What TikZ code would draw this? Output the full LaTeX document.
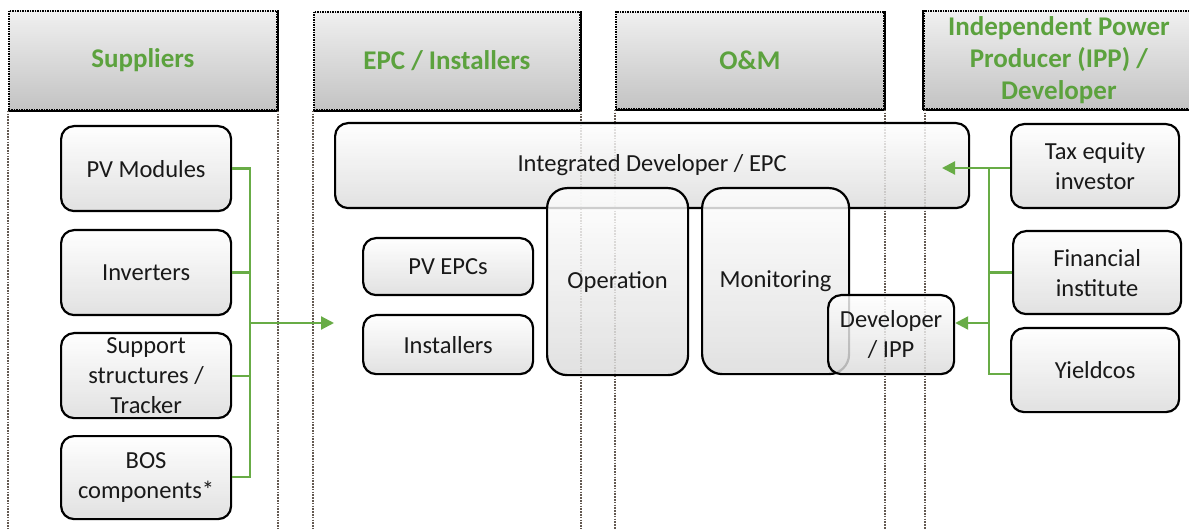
\documentclass[tikz,border=0pt]{standalone}
\usepackage{fontspec}
\setmainfont{Carlito}
\usetikzlibrary{arrows.meta}
\definecolor{grn}{RGB}{104,172,70}
\definecolor{hgrn}{RGB}{92,162,62}
\definecolor{dotc}{RGB}{100,90,82}
\tikzset{
 hdr/.style={anchor=north west, inner sep=0pt, top color=gray!12, bottom color=gray!47, draw=black, line width=1.8pt, dash pattern=on 1.5pt off 1pt, text=hgrn, font=\fontsize{27}{32}\selectfont\bfseries, align=center},
 hdredge/.style={draw=black, line width=2.4pt},
 box/.style={anchor=north west, inner sep=2pt, rounded corners=13pt, draw=black, line width=2.2pt, top color=white, bottom color=gray!28, fill opacity=0.82, text opacity=1, text=black!90, font=\fontsize{24.5}{30}\selectfont, align=center},
 bigbox/.style={box, rounded corners=20pt},
 vline/.style={draw=dotc, line width=2pt, dash pattern=on 1.6pt off 1.2pt},
 conn/.style={draw=grn, line width=2.2pt},
 arr/.style={conn, -{Triangle[length=13pt,width=13pt]}},
}
\begin{document}
\begin{tikzpicture}[x=1pt,y=-1pt]
\clip (0,0) rectangle (1189,529);
\fill[white] (0,0) rectangle (1189,529);
% headers
\node[hdr, minimum width=268pt, minimum height=99pt] (h1) at (8,10) {Suppliers};
\node[hdr, minimum width=266pt, minimum height=98pt] (h2) at (313,11) {EPC / Installers};
\node[hdr, minimum width=268pt, minimum height=97pt] (h3) at (615,11) {O\&M};
\node[hdr, minimum width=270pt, minimum height=98pt] (h4) at (923,10) {Independent Power\\Producer (IPP) /\\Developer};
\foreach \h in {h1,h2,h3,h4}{
  \draw[hdredge] (\h.south west) -- (\h.south east) -- (\h.north east);
}
\draw[hdredge] (h4.south west) -- (h4.north west);
% vertical dotted lines
\draw[vline] (h1.south west) -- (h1.south west |- 0,529);
\draw[vline] (h1.south east) -- (h1.south east |- 0,529);
\draw[vline] (h2.south west) -- (h2.south west |- 0,529);
\draw[vline] (h2.south east) -- (h2.south east |- 0,529);
\draw[vline] (h3.south west) -- (h3.south west |- 0,529);
\draw[vline] (h3.south east) -- (h3.south east |- 0,529);
\draw[vline] ([xshift=2pt]h4.south west) -- ([xshift=2pt]h4.south west |- 0,529);
% supplier boxes
\node[box, minimum width=170pt, minimum height=85pt] (pv) at (60,125) {PV Modules};
\node[box, minimum width=170pt, minimum height=85pt] (inv) at (60,229) {Inverters};
\node[box, minimum width=170pt, minimum height=85pt] (sup) at (60,332) {Support\\structures /\\Tracker};
\node[box, minimum width=170pt, minimum height=83pt] (bos) at (60,435) {BOS\\components*};
% EPC / O&M boxes
\node[box, minimum width=634pt, minimum height=85pt] (integ) at (334,122) {Integrated Developer / EPC};
\node[box, minimum width=170pt, minimum height=57pt] (pvepc) at (362,237) {PV EPCs};
\node[box, minimum width=170pt, minimum height=59pt] (inst) at (362,314) {Installers};
\node[bigbox, minimum width=141pt, minimum height=187pt] (oper) at (546,187) {Operation};
\node[bigbox, minimum width=147pt, minimum height=186pt] (mon) at (701,187) {Monitoring};
\node[box, minimum width=126pt, minimum height=79pt] (dev) at (827,294) {Developer\\/ IPP};
% finance boxes
\node[box, minimum width=168pt, minimum height=84pt] (tax) at (1010,123) {Tax equity\\investor};
\node[box, minimum width=168pt, minimum height=83pt] (fin) at (1012,230) {Financial\\institute};
\node[box, minimum width=168pt, minimum height=84pt] (yld) at (1010,327) {Yieldcos};
% left connectors
\coordinate (sT) at (250,168);
\coordinate (sB) at (250,477);
\coordinate (sM) at (250,323);
\coordinate (sA) at (334,323);
\draw[conn] (pv.east) -| (sB) -- (sB -| bos.east);
\draw[conn] (inv.east) -- (inv.east -| sT);
\draw[conn] (sup.east) -- (sup.east -| sT);
\draw[arr] (sM) -- (sA);
% right connectors
\coordinate (rT) at (989,168);
\coordinate (rB) at (989,374);
\coordinate (rM) at (989,323);
\coordinate (iA) at (942,168);
\draw[conn] (tax.west |- rT) -- (rT) -- (rB) -- (rB -| yld.west);
\draw[conn] (fin.west) -- (fin.west -| rT);
\draw[arr] (rT) -- (iA);
\draw[arr] (rM) -- (rM -| dev.east);
\end{tikzpicture}
\end{document}
